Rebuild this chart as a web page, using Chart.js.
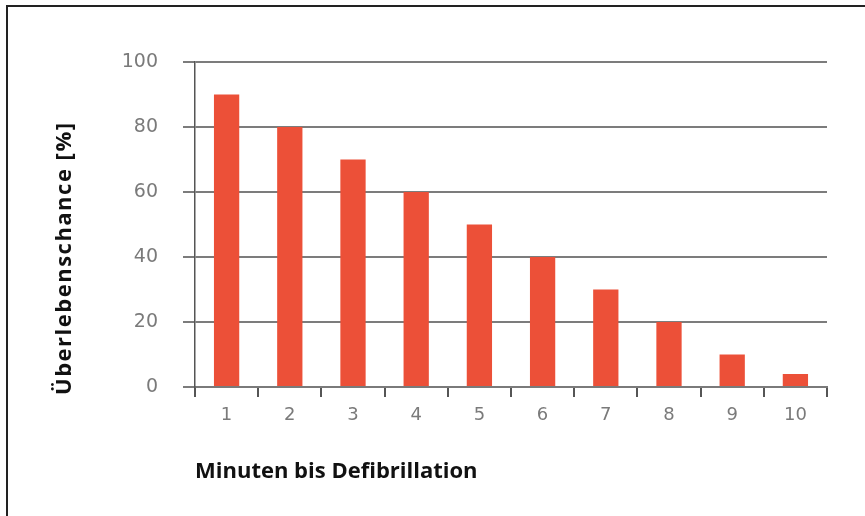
<!DOCTYPE html>
<html>
<head>
<meta charset="utf-8">
<script src="https://cdn.jsdelivr.net/npm/chart.js@4/dist/chart.umd.min.js"></script>
<style>
  html, body { margin: 0; padding: 0; background: #ffffff; }
  #wrap { width: 865px; height: 516px; position: relative; }
</style>
</head>
<body>
<div id="wrap"><canvas id="c" width="865" height="516"></canvas></div>
<script>
// Überlebenschance nach Minuten bis zur Defibrillation
const minutes = ['1', '2', '3', '4', '5', '6', '7', '8', '9', '10'];
const survival = [90, 80, 70, 60, 50, 40, 30, 20, 10, 4];
const yTicks = [0, 20, 40, 60, 80, 100];

const xTitle = 'Minuten bis Defibrillation';
const yTitle = 'Überlebenschance [%]';

// white page with a frame line along the left and top edges
const framePlugin = {
  id: 'frame',
  beforeDraw(chart) {
    const ctx = chart.ctx;
    ctx.save();
    ctx.fillStyle = '#ffffff';
    ctx.fillRect(0, 0, chart.width, chart.height);
    ctx.strokeStyle = '#222222';
    ctx.lineWidth = 2;
    ctx.beginPath();
    ctx.moveTo(7, chart.height);
    ctx.lineTo(7, 6);
    ctx.lineTo(chart.width, 6);
    ctx.stroke();
    ctx.restore();
  }
};

// rotated y-axis title, starting just below the baseline of the axis
const yTitlePlugin = {
  id: 'yTitle',
  afterDraw(chart) {
    const ctx = chart.ctx;
    const area = chart.chartArea;
    ctx.save();
    ctx.translate(65, area.bottom + 8);
    ctx.rotate(-Math.PI / 2);
    ctx.font = 'bold 22px "Open Sans"';
    ctx.letterSpacing = '1.5px';
    ctx.fillStyle = '#111111';
    ctx.textAlign = 'left';
    ctx.textBaseline = 'middle';
    ctx.fillText(yTitle, 0, 0);
    ctx.restore();
  }
};

new Chart(document.getElementById('c'), {
  type: 'bar',
  data: {
    labels: minutes,
    datasets: [{
      data: survival,
      backgroundColor: '#ec5038',
      borderWidth: 0,
      barPercentage: 0.8,
      categoryPercentage: 0.5
    }]
  },
  plugins: [framePlugin, yTitlePlugin],
  options: {
    responsive: false,
    animation: false,
    devicePixelRatio: 1,
    layout: { padding: { left: 0, top: 62, right: 38, bottom: 0 } },
    plugins: {
      legend: { display: false },
      tooltip: { enabled: false }
    },
    scales: {
      x: {
        afterFit(scale) { scale.height = 129; },
        grid: {
          display: true,
          drawOnChartArea: false,
          drawTicks: true,
          tickLength: 10,
          offset: true,
          color: '#555555',
          lineWidth: 2
        },
        border: { display: true, color: '#7a7a7a', width: 2 },
        ticks: {
          color: '#7a7a7a',
          padding: 8,
          font: { family: 'DejaVu Sans', size: 18 }
        },
        title: {
          display: true,
          text: xTitle,
          align: 'start',
          color: '#111111',
          font: { family: 'Open Sans', size: 22, weight: 'bold' },
          padding: { top: 0, bottom: 31 }
        }
      },
      y: {
        min: 0,
        max: 100,
        afterFit(scale) { scale.width = 195; },
        afterBuildTicks(scale) { scale.ticks = yTicks.map(v => ({ value: v })); },
        grid: {
          color: '#7c7c7c',
          lineWidth: 2,
          drawTicks: true,
          tickLength: 12
        },
        border: { display: true, color: '#555555', width: 1.5 },
        ticks: {
          color: '#7a7a7a',
          padding: 25,
          font: { family: 'DejaVu Sans', size: 19 }
        },
        title: { display: false }
      }
    }
  }
});
</script>
</body>
</html>
